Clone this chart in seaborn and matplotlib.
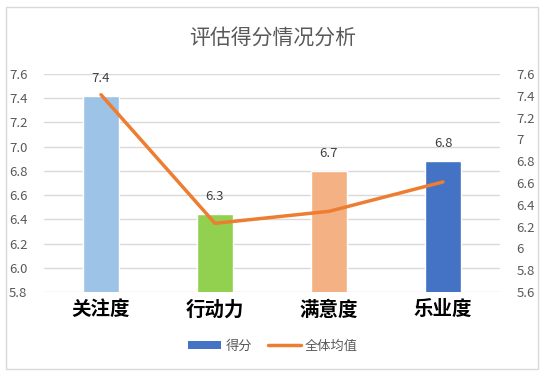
import matplotlib
matplotlib.use("Agg")
import matplotlib.pyplot as plt
import seaborn as sns
import pandas as pd
from matplotlib.patches import Rectangle, Patch
from matplotlib.lines import Line2D
from matplotlib.ticker import FuncFormatter, MultipleLocator

# data
categories = ["关注度", "行动力", "满意度", "乐业度"]
scores = [7.42, 6.44, 6.80, 6.88]
score_labels = ["7.4", "6.3", "6.7", "6.8"]
overall_mean = [7.41, 6.23, 6.34, 6.61]
bar_colors = ["#9DC3E6", "#92D050", "#F4B183", "#4472C4"]

sns.set_theme(style="white")
plt.rcParams['font.family'] = ['Noto Sans CJK SC', 'DejaVu Sans']

df = pd.DataFrame({"cat": categories, "score": scores, "mean": overall_mean})

fig = plt.figure(figsize=(5.46, 3.79), dpi=100)
ax = fig.add_axes([44 / 546, 1 - 292 / 379, 456 / 546, 218 / 379])

sns.barplot(data=df, x="cat", y="score", hue="cat", palette=bar_colors,
            saturation=1, width=0.31, legend=False, ax=ax, zorder=2)
ax.set_ylim(5.8, 7.6)
ax.yaxis.set_major_locator(MultipleLocator(0.2))
ax.yaxis.set_major_formatter(FuncFormatter(lambda v, p: f"{v:.1f}"))
ax.grid(axis="y", color="#D9D9D9", linewidth=1, zorder=0)
ax.set_axisbelow(True)
for s in ax.spines.values():
    s.set_visible(False)
ax.set_xlabel("")
ax.set_ylabel("")
ax.tick_params(axis="y", length=0, labelsize=9.5, labelcolor="#595959", pad=12)
ax.tick_params(axis="x", length=0, pad=6)
for t in ax.get_xticklabels():
    t.set_fontsize(14)
    t.set_fontweight("bold")
    t.set_color("black")

for i, (v, lab) in enumerate(zip(scores, score_labels)):
    ax.annotate(lab, (i, v), xytext=(0, 8), textcoords="offset points",
                ha="center", va="bottom", fontsize=9.5, color="#404040")

ax2 = ax.twinx()
sns.lineplot(data=df, x="cat", y="mean", color="#ED7D31", linewidth=2.5,
             ax=ax2, zorder=3)
ax2.set_ylim(5.6, 7.6)
ax2.yaxis.set_major_locator(MultipleLocator(0.2))
ax2.yaxis.set_major_formatter(FuncFormatter(lambda v, p: f"{round(v, 1):g}"))
for s in ax2.spines.values():
    s.set_visible(False)
ax2.set_ylabel("")
ax2.tick_params(axis="y", length=0, labelsize=9.5, labelcolor="#595959", pad=12)
ax2.grid(False)
ax.set_xlim(-0.5, 3.5)

fig.text(0.5, 1 - 38 / 379, "评估得分情况分析", ha="center", va="center",
         fontsize=15, color="#595959")

handles = [Patch(facecolor="#4472C4", edgecolor="none"),
           Line2D([0], [0], color="#ED7D31", linewidth=2.5)]
fig.legend(handles, ["得分", "全体均值"], loc="center",
           bbox_to_anchor=(0.5, 1 - 346 / 379), ncol=2, frameon=False,
           fontsize=9.5, labelcolor="#595959", handlelength=2.5,
           handleheight=0.6, columnspacing=1.2, handletextpad=0.3)

fig.patches.append(Rectangle((6 / 546, 1 - 369 / 379), 532 / 546, 362 / 379,
                             transform=fig.transFigure, fill=False,
                             edgecolor="#D9D9D9", linewidth=1))

fig.savefig("out.png", dpi=100)
